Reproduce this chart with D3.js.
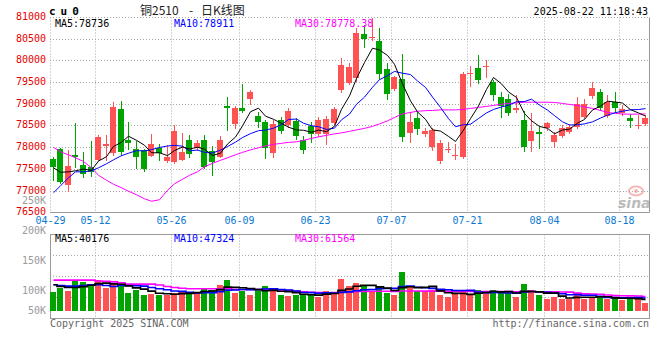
<!DOCTYPE html>
<html><head><meta charset="utf-8">
<script src="https://cdn.jsdelivr.net/npm/d3@7"></script>
<style>
html,body{margin:0;padding:0;background:#fff;}
svg{display:block;}
</style>
</head><body>
<svg id="c" width="660" height="360"></svg>
<script>
const dates = ['04-29','04-30','05-06','05-07','05-08','05-09','05-12','05-13','05-14','05-15',
'05-16','05-19','05-20','05-21','05-22','05-23','05-26','05-27','05-28','05-29',
'05-30','06-03','06-04','06-05','06-06','06-09','06-10','06-11','06-12','06-13',
'06-16','06-17','06-18','06-19','06-20','06-23','06-24','06-25','06-26','06-27',
'06-30','07-01','07-02','07-03','07-04','07-07','07-08','07-09','07-10','07-11',
'07-14','07-15','07-16','07-17','07-18','07-21','07-22','07-23','07-24','07-25',
'07-28','07-29','07-30','07-31','08-01','08-04','08-05','08-06','08-07','08-08',
'08-11','08-12','08-13','08-14','08-15','08-18','08-19','08-20','08-21'];

const opens = [77743,77966,77128,77835,77605,77543,77720,78042,77880,78893,
78180,77966,77950,77812,77989,77703,77658,77720,78180,77989,
78180,77934,77796,78970,78541,78910,79124,78740,78588,77888,
78640,78525,78625,78180,78502,78318,78318,78571,79331,79492,
79607,80620,80528,80459,79814,79354,79584,78341,78686,78307,
78026,77681,77954,77823,77782,79699,79831,79861,79522,79177,
79124,78871,78640,78157,78371,78449,78141,78272,78353,78486,
78716,79200,79292,78740,79048,78795,78680,78502,78541];

const highs = [77790,77990,77950,78565,77910,78164,78295,78295,79062,79078,
78600,78150,77970,78318,78088,78065,78525,78334,78295,78180,
78290,78042,78272,79177,78960,79462,79331,78818,78640,78640,
78716,78910,78686,78272,78587,78703,78733,78928,80079,79946,
80758,80830,80990,80758,79946,79653,80160,78832,78818,78456,
78456,78180,78141,78088,79745,79884,80137,80022,79561,79292,
79232,79216,78848,78795,78509,78601,78364,78525,78548,79177,
79124,79522,79354,79216,79292,78986,78772,78756,78756];

const lows = [77260,77180,77006,77565,77330,77335,77720,77720,77835,77835,
77966,77530,77467,77800,77720,77680,77650,77710,77796,77950,
77529,77374,77780,78410,78449,78820,79009,78486,77759,77796,
78340,78479,78203,77888,78141,78272,78088,78548,79285,79469,
79545,80314,80482,79584,79124,79331,78157,78141,78318,78272,
77950,77644,77904,77736,77766,79423,79485,79623,79101,78717,
78756,78825,77934,77934,77989,78410,78026,78249,78341,78456,
78686,79154,78871,78710,78832,78756,78486,78456,78525];

const closes = [77565,77197,77582,77782,77400,77437,78256,78088,78947,77904,
78118,77796,77513,78088,77888,77796,78387,77911,77858,78103,
77565,77658,78180,78910,78910,78855,79292,78588,77989,78548,
78387,78848,78272,77950,78318,78640,78663,78894,79907,79867,
80643,80505,80551,79699,79239,79619,78249,78587,78426,78387,
78410,78104,77973,77842,79699,79729,79561,79884,79216,78970,
78795,78924,78026,78387,78318,78578,78295,78456,78486,79009,
79009,79384,78910,79048,78910,78894,78625,78525,78693];

// volume, in thousands
const volumes = [97.5,102.5,98.6,117,112.6,108.7,116.5,102.5,110.9,108.7,
95.8,99.7,92.4,94.1,91.3,91.3,95.8,97.5,95.8,97.5,
101.4,99.7,108.7,116.5,95.8,98.6,92.4,100.8,106.5,98.6,
91.3,89.6,92.4,92.4,94.1,88.5,98.6,97.5,118.2,105.9,
110.9,105.9,97.5,105.9,95.8,91.3,129.5,104.2,98.6,98.6,
99.7,91.3,89,93,97.5,93,100.8,95.3,100.8,94.7,
94.7,89,109.3,99.7,91.3,84.5,89,84.5,84.5,95.8,
85.7,89,89,84.5,86.2,82.8,89,85.7,77.8];

// moving-average values before a full window is available
const ma5Head = [77536,77432,77443,77466];
const ma10Head = [76960,77121,77305,77443,77443,77466,77536,77628,77720];
const ma30 = [78007,77904,77835,77766,77681,77535,77363,77248,77156,77075,
76995,76914,76822,76764,76799,77017,77167,77271,77363,77443,
77559,77639,77708,77766,77835,77892,77950,77996,78042,78076,
78100,78122,78134,78168,78215,78249,78284,78318,78341,78376,
78410,78445,78491,78548,78618,78698,78779,78813,78841,78853,
78859,78871,78871,78871,78882,78905,78928,78951,78974,79002,
79020,79032,79048,79048,79048,79048,79043,79020,78997,78974,
78940,78905,78859,78813,78790,78775,78772,78775,78778];

const volMa5Head = [108.8,105.9,104.2,104.2];
const volMa10Head = [108.8,107.6,106.4,106.4,107.6,108.8,108.8,107.6,105.9];
const volMa30 = [116.5,116.5,116.5,116.5,116.5,116.5,115,114.3,113.5,111.8,
109.8,109.8,109.8,109.8,108.4,105.9,104.2,102.9,102.2,102.2,
102.2,102.2,102.2,102.2,100.8,100.8,100.8,100.8,100.8,100.8,
100,99.2,98.3,97,96.3,95.8,95.3,95.8,96.3,97,
97.5,97.5,97.8,98,97.8,97.6,98.3,98.4,98.3,98.2,
98.1,97.9,97.7,97.6,97.6,97.5,97.6,97.5,97.5,97.4,
97.3,97.2,97.4,97.4,97.2,96.9,96.8,96.6,96.4,95,
93.6,93.3,92.9,91.6,90.7,90.4,90.2,89.9,89.1];

const priceTicks = [76500,77000,77500,78000,78500,79000,79500,80000,80500,81000];
const volTicks = [50,100,150,200,250];
const dateTicks = ['04-29','05-12','05-26','06-09','06-23','07-07','07-21','08-04','08-18'];

const symbolText = 'cu0';
const titleParts = ['铜2510', '-', '日K线图'];
const timeText = '2025-08-22 11:18:43';
const maLabels = ['MA5:78736', 'MA10:78911', 'MA30:78778.38'];
const volMaLabels = ['MA5:40176', 'MA10:47324', 'MA30:61564'];
const footerLeft = 'Copyright 2025 SINA.COM';
const footerRight = 'http://finance.sina.com.cn';

// ---------- drawing ----------
const RED = '#ff5252', GREEN = '#00a300';
const MONO = '"DejaVu Sans Mono", "Liberation Mono", monospace';
const svg = d3.select('#c');
const L = 50, R = 649.5, VT = 234.5, VB = 318.5;
const n = dates.length;

const x = d3.scaleBand().domain(dates).range([L, L + 7.6 * (n - 0.21)]).paddingInner(0.21).paddingOuter(0);
const y = d3.scaleLinear().domain([76500, 81000]).range([212.7, 17.6]);
const yv = d3.scaleLinear().domain([100, 250]).range([290, 200]);
const volBase = 65;
const left = d => Math.floor(x(d));
const cx = i => left(dates[i]) + 3.5;
const ln = v => Math.floor(v) + 0.5;

function movingAvg(vals, w, head) {
  return vals.map((v, i) => i < w - 1 ? head[i] : d3.mean(vals.slice(i - w + 1, i + 1)));
}
const ma5 = movingAvg(closes, 5, ma5Head);
const ma10 = movingAvg(closes, 10, ma10Head);
const vma5 = movingAvg(volumes, 5, volMa5Head);
const vma10 = movingAvg(volumes, 10, volMa10Head);

const grid = svg.append('g').attr('stroke', '#a8a8a8').attr('stroke-width', 1).attr('fill', 'none');
// main horizontal grid
priceTicks.filter(v => v !== 76500).forEach(v => {
  grid.append('line').attr('x1', L).attr('x2', R).attr('y1', ln(y(v))).attr('y2', ln(y(v)))
    .attr('stroke-dasharray', '1,2');
});
// vertical grid (main + volume)
dateTicks.forEach(d => {
  const xx = left(d) + 0.5;
  grid.append('line').attr('x1', xx).attr('x2', xx).attr('y1', ln(y(81000))).attr('y2', ln(y(76500)))
    .attr('stroke-dasharray', '1,2');
  grid.append('line').attr('x1', xx).attr('x2', xx).attr('y1', VT).attr('y2', VB)
    .attr('stroke-dasharray', '1,2');
});
// volume horizontal grid
[255.5, 276.5, 297.5].forEach(yy => {
  grid.append('line').attr('x1', L).attr('x2', R).attr('y1', yy).attr('y2', yy).attr('stroke-dasharray', '1,2');
});
// borders
const border = svg.append('g').attr('stroke', '#9a9a9a').attr('stroke-width', 1).attr('fill', 'none');
border.append('line').attr('x1', L).attr('x2', R).attr('y1', ln(y(76500))).attr('y2', ln(y(76500)));
border.append('line').attr('x1', R).attr('x2', R).attr('y1', ln(y(81000))).attr('y2', ln(y(76500)));
border.append('rect').attr('x', L + 0.5).attr('y', VT).attr('width', R - L - 0.5).attr('height', VB - VT);

// price labels
svg.append('g').selectAll('text').data(priceTicks).join('text')
  .attr('x', 46).attr('y', v => y(v) + 2.5).attr('text-anchor', 'end')
  .attr('font-family', MONO).attr('font-size', 10).attr('fill', '#e60000').text(v => v);
// volume labels
svg.append('g').selectAll('text').data(volTicks).join('text')
  .attr('x', 46).attr('y', v => Math.min(yv(v), 310) + 3.5).attr('text-anchor', 'end')
  .attr('font-family', MONO).attr('font-size', 10).attr('fill', '#9a9a9a').text(v => v + 'K');
// date labels
svg.append('g').selectAll('text').data(dateTicks).join('text')
  .attr('x', d => left(d) + 0.5).attr('y', 224).attr('text-anchor', 'middle')
  .attr('font-family', MONO).attr('font-size', 10).attr('fill', '#0a78d2').text(d => d);

// watermark
const wm = svg.append('g').attr('opacity', 0.6);
wm.append('ellipse').attr('cx', 636).attr('cy', 191).attr('rx', 7).attr('ry', 4.5)
  .attr('fill', 'none').attr('stroke', '#f08a8a').attr('stroke-width', 2);
wm.append('circle').attr('cx', 636).attr('cy', 191).attr('r', 2).attr('fill', '#f08a8a');
wm.append('text').attr('x', 618).attr('y', 208).attr('font-family', '"DejaVu Sans"').attr('font-weight', 'bold')
  .attr('font-style', 'italic').attr('font-size', 14).attr('fill', '#909090').text('sina');

// candles
const idx = d3.range(n);
const cg = svg.append('g').attr('shape-rendering', 'crispEdges');
cg.selectAll('line').data(idx).join('line')
  .attr('x1', i => cx(i)).attr('x2', i => cx(i))
  .attr('y1', i => Math.round(y(highs[i]))).attr('y2', i => Math.round(y(lows[i])) + 1)
  .attr('stroke', i => closes[i] >= opens[i] ? RED : GREEN).attr('stroke-width', 1);
cg.selectAll('rect').data(idx).join('rect')
  .attr('x', i => left(dates[i])).attr('width', 6)
  .attr('y', i => Math.round(y(Math.max(opens[i], closes[i]))))
  .attr('height', i => Math.max(1, Math.round(y(Math.min(opens[i], closes[i]))) - Math.round(y(Math.max(opens[i], closes[i])))))
  .attr('fill', i => closes[i] >= opens[i] ? RED : GREEN);

// main MA lines
const lineP = d3.line().x((d, i) => cx(i)).y(d => y(d));
[[ma30, '#ff00ff'], [ma10, '#0000ff'], [ma5, '#000000']].forEach(([arr, col]) => {
  svg.append('path').attr('d', lineP(arr)).attr('fill', 'none').attr('stroke', col).attr('stroke-width', 1);
});

// volume bars
const vg = svg.append('g').attr('shape-rendering', 'crispEdges');
vg.selectAll('rect').data(idx).join('rect')
  .attr('x', i => left(dates[i])).attr('width', 6)
  .attr('y', i => Math.round(yv(volumes[i])))
  .attr('height', i => Math.round(yv(volBase)) - Math.round(yv(volumes[i])))
  .attr('fill', i => closes[i] >= opens[i] ? RED : GREEN);
const lineV = d3.line().x((d, i) => cx(i)).y(d => yv(d)).curve(d3.curveStep);
[[volMa30, '#ff00ff'], [vma10, '#0000ff'], [vma5, '#000000']].forEach(([arr, col]) => {
  svg.append('path').attr('d', lineV(arr)).attr('fill', 'none').attr('stroke', col).attr('stroke-width', 1.6);
});

// header texts
svg.append('text').attr('x', 49).attr('y', 15).attr('font-family', MONO).attr('font-weight', 'bold')
  .attr('font-size', 11).attr('letter-spacing', 5).attr('fill', '#000').text(symbolText);
const tt = svg.append('text').attr('y', 15).attr('font-family', '"Noto Sans CJK SC", sans-serif')
  .attr('font-size', 12).attr('fill', '#222');
tt.append('tspan').attr('x', 140).text(titleParts[0]);
tt.append('tspan').attr('x', 189).text(titleParts[1]);
tt.append('tspan').attr('x', 201).text(titleParts[2]);
svg.append('text').attr('x', 648).attr('y', 15).attr('text-anchor', 'end').attr('font-family', MONO)
  .attr('font-size', 10).attr('fill', '#000').text(timeText);

const maCols = ['#000000', '#0000ff', '#ff00ff'];
const maX = [55, 174, 295];
maLabels.forEach((t, k) => svg.append('text').attr('x', maX[k]).attr('y', 27).attr('font-family', MONO)
  .attr('font-size', 10).attr('fill', maCols[k]).text(t));
volMaLabels.forEach((t, k) => svg.append('text').attr('x', maX[k]).attr('y', 242).attr('font-family', MONO)
  .attr('font-size', 10).attr('fill', maCols[k]).text(t));

svg.append('text').attr('x', 50).attr('y', 327).attr('font-family', MONO).attr('font-size', 10)
  .attr('fill', '#666').text(footerLeft);
svg.append('text').attr('x', 649).attr('y', 327).attr('text-anchor', 'end').attr('font-family', MONO)
  .attr('font-size', 10).attr('fill', '#666').text(footerRight);
</script>
</body></html>
